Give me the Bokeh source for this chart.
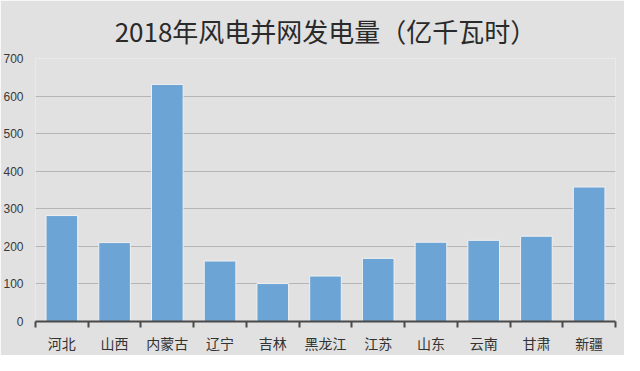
from bokeh.plotting import figure
from bokeh.models import FixedTicker, Range1d, ColumnDataSource
from bokeh.embed import file_html
from bokeh.resources import INLINE

categories = ["河北", "山西", "内蒙古", "辽宁", "吉林", "黑龙江", "江苏", "山东", "云南", "甘肃", "新疆"]
values = [282, 210, 631, 161, 101, 121, 168, 211, 216, 227, 358]
y_ticks = [0, 100, 200, 300, 400, 500, 600, 700]
title_text = "2018年风电并网发电量（亿千瓦时）"

xs = list(range(1, len(categories) + 1))
src = ColumnDataSource(dict(x=xs, top=values, name=categories))

p = figure(width=624, height=355, output_backend="svg", toolbar_location=None,
           x_range=Range1d(0.5, len(categories) + 0.5), y_range=Range1d(0, 700),
           min_border_left=34, min_border_right=9, min_border_top=58, min_border_bottom=30)

p.title.text = title_text
p.title.align = "center"
p.title.text_font = "Noto Sans CJK SC"
p.title.text_font_size = "26px"
p.title.text_font_style = "normal"
p.title.text_color = "#2a2a2a"
p.title.offset = 0
p.title.standoff = 19

bg = "#e1e1e1"
p.background_fill_color = bg
p.border_fill_color = bg
p.outline_line_color = None

p.vbar(x="x", top="top", width=0.6, bottom=0, source=src,
       fill_color="#6ca4d6", line_color="#f0f0f0", line_width=1)

p.xaxis.ticker = FixedTicker(ticks=xs, minor_ticks=[i + 0.5 for i in range(0, len(categories) + 1)])
p.xaxis.major_label_overrides = {x: c for x, c in zip(xs, categories)}
p.xaxis.major_tick_out = 0
p.xaxis.major_tick_in = 0
p.xaxis.minor_tick_out = 6
p.xaxis.minor_tick_in = 0
p.xaxis.minor_tick_line_width = 2
p.xaxis.minor_tick_line_color = "#4a4a4a"
p.xaxis.axis_line_width = 2
p.xaxis.axis_line_color = "#4a4a4a"
p.xaxis.major_label_text_font = "Noto Sans CJK SC"
p.xaxis.major_label_text_font_size = "14px"
p.xaxis.major_label_text_color = "#333333"
p.xaxis.major_label_standoff = 5

p.yaxis.ticker = FixedTicker(ticks=y_ticks)
p.yaxis.axis_line_color = None
p.yaxis.major_tick_line_color = None
p.yaxis.minor_tick_line_color = None
p.yaxis.major_label_text_font = "Liberation Sans"
p.yaxis.major_label_text_font_size = "12px"
p.yaxis.major_label_text_color = "#383838"
p.yaxis.major_label_standoff = 6

p.xgrid.grid_line_color = None
p.ygrid.grid_line_color = "#b5b5b5"
p.ygrid.grid_line_width = 1

open("out.html", "w").write(file_html(p, INLINE))
